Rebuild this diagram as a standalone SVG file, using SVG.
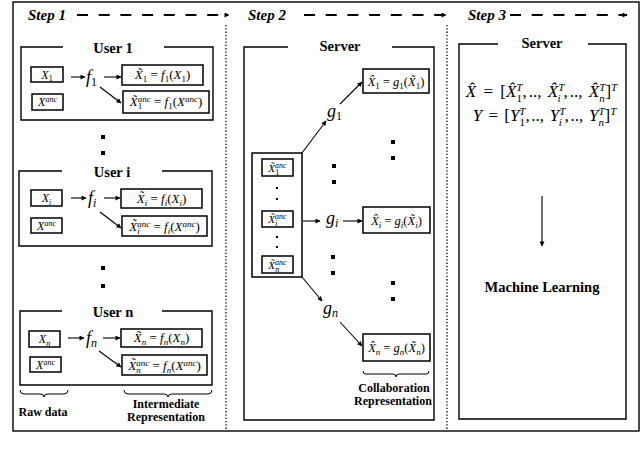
<svg xmlns="http://www.w3.org/2000/svg" width="640" height="450" viewBox="0 0 640 450">
<defs>
<marker id="ah" viewBox="0 0 10 10" refX="9" refY="5" markerWidth="6" markerHeight="5" orient="auto" markerUnits="userSpaceOnUse">
<path d="M0,0 L10,5 L0,10 z" fill="#000"/>
</marker>
</defs>
<style>
.fr{fill:none;stroke:#000;stroke-width:1.4}
.bx{fill:#fff;stroke:#000;stroke-width:1.5}
.ln{fill:none;stroke:#000;stroke-width:1.1;marker-end:url(#ah)}
.m{font-family:"Liberation Serif","DejaVu Serif",serif;font-style:italic;fill:#000}
.u{font-style:normal}
.t{font-family:"Liberation Serif","DejaVu Serif",serif;font-weight:bold;fill:#000}
.st{font-family:"Liberation Serif","DejaVu Serif",serif;font-weight:bold;font-style:italic;font-size:15px;fill:#000}
.dot{fill:#000}
.dash{stroke:#000;stroke-width:2;stroke-dasharray:11 10.7;fill:none;marker-end:url(#ah)}
.dotted{stroke:#000;stroke-width:1.3;stroke-dasharray:1.3 2;fill:none}
.br{fill:none;stroke:#000;stroke-width:1}
</style>
<rect x="0" y="0" width="640" height="450" fill="#fff"/>

<g id="frame">
<rect class="fr" x="13" y="2" width="626" height="429"/>
<line class="dotted" x1="226" y1="25" x2="226" y2="431"/>
<line class="dotted" x1="447" y1="25" x2="447" y2="431"/>
</g>

<g id="steps">
<text class="st" x="28" y="20">Step 1</text>
<text class="st" x="248" y="20">Step 2</text>
<text class="st" x="468" y="20">Step 3</text>
</g>

<g id="user1">
<path class="fr" d="M63,47 H21 V120 H213 V47 H164"/>
<text class="t" x="113" y="53" text-anchor="middle" font-size="14.5">User 1</text>
<rect class="bx" x="31" y="67" width="32" height="15"/>
<text class="m" x="47" y="78.5" text-anchor="middle" font-size="12">X<tspan class="u" font-size="8" dy="2.5">1</tspan></text>
<rect class="bx" x="32" y="94" width="31" height="16"/>
<text class="m" x="47.5" y="106" text-anchor="middle" font-size="12">X<tspan font-size="8" dy="-4">anc</tspan></text>
<text class="m" x="86" y="83" font-size="18">f<tspan class="u" font-size="12" dy="3">1</tspan></text>
<rect class="bx" x="122" y="65" width="81" height="20"/>
<text class="m" x="162.5" y="79" text-anchor="middle" font-size="13">X&#771;<tspan class="u" font-size="9" dy="3">1</tspan><tspan class="u" dy="-3"> = </tspan>f<tspan class="u" font-size="9" dy="3">1</tspan><tspan class="u" dy="-3">(</tspan>X<tspan class="u" font-size="9" dy="3">1</tspan><tspan class="u" dy="-3">)</tspan></text>
<rect class="bx" x="123" y="91" width="86" height="22"/>
<text class="m" x="166" y="106" text-anchor="middle" font-size="13">X&#771;<tspan font-size="9" dy="-4">anc</tspan><tspan class="u" font-size="9" dx="-13" dy="7">1</tspan><tspan class="u" dx="8.5" dy="-3"> = </tspan>f<tspan class="u" font-size="9" dy="3">1</tspan><tspan class="u" dy="-3">(</tspan>X<tspan font-size="9" dy="-4">anc</tspan><tspan class="u" dy="4">)</tspan></text>
</g>

<g id="useri">
<path class="fr" d="M62,171 H19 V246 H212 V171 H162"/>
<text class="t" x="112" y="177" text-anchor="middle" font-size="14.5">User i</text>
<rect class="bx" x="31" y="190" width="31" height="16"/>
<text class="m" x="46.5" y="202" text-anchor="middle" font-size="12">X<tspan font-size="8" dy="2.5">i</tspan></text>
<rect class="bx" x="31" y="218" width="31" height="15"/>
<text class="m" x="46.5" y="229.5" text-anchor="middle" font-size="12">X<tspan font-size="8" dy="-4">anc</tspan></text>
<text class="m" x="88" y="204" font-size="18">f<tspan font-size="12" dy="3">i</tspan></text>
<rect class="bx" x="121" y="189" width="81" height="19"/>
<text class="m" x="161.5" y="202.5" text-anchor="middle" font-size="13">X&#771;<tspan font-size="9" dy="3">i</tspan><tspan class="u" dy="-3"> = </tspan>f<tspan font-size="9" dy="3">i</tspan><tspan class="u" dy="-3">(</tspan>X<tspan font-size="9" dy="3">i</tspan><tspan class="u" dy="-3">)</tspan></text>
<rect class="bx" x="122" y="216" width="85" height="20"/>
<text class="m" x="164.5" y="230.5" text-anchor="middle" font-size="13">X&#771;<tspan font-size="9" dy="-4">anc</tspan><tspan font-size="9" dx="-13" dy="7">i</tspan><tspan class="u" dx="10.5" dy="-3"> = </tspan>f<tspan font-size="9" dy="3">i</tspan><tspan class="u" dy="-3">(</tspan>X<tspan font-size="9" dy="-4">anc</tspan><tspan class="u" dy="4">)</tspan></text>
</g>

<g id="usern">
<path class="fr" d="M62,311 H20 V385 H212 V311 H162"/>
<text class="t" x="113" y="317" text-anchor="middle" font-size="14.5">User n</text>
<rect class="bx" x="29" y="331" width="31" height="16"/>
<text class="m" x="44.5" y="343" text-anchor="middle" font-size="12">X<tspan font-size="8" dy="2.5">n</tspan></text>
<rect class="bx" x="30" y="357" width="31" height="15"/>
<text class="m" x="45.5" y="368.5" text-anchor="middle" font-size="12">X<tspan font-size="8" dy="-4">anc</tspan></text>
<text class="m" x="86" y="344" font-size="18">f<tspan font-size="12" dy="3">n</tspan></text>
<rect class="bx" x="121" y="329" width="81" height="18"/>
<text class="m" x="161.5" y="342" text-anchor="middle" font-size="13">X&#771;<tspan font-size="9" dy="3">n</tspan><tspan class="u" dy="-3"> = </tspan>f<tspan font-size="9" dy="3">n</tspan><tspan class="u" dy="-3">(</tspan>X<tspan font-size="9" dy="3">n</tspan><tspan class="u" dy="-3">)</tspan></text>
<rect class="bx" x="122" y="355" width="85" height="20"/>
<text class="m" x="164.5" y="369.5" text-anchor="middle" font-size="13">X&#771;<tspan font-size="9" dy="-4">anc</tspan><tspan font-size="9" dx="-13" dy="7">n</tspan><tspan class="u" dx="8.5" dy="-3"> = </tspan>f<tspan font-size="9" dy="3">n</tspan><tspan class="u" dy="-3">(</tspan>X<tspan font-size="9" dy="-4">anc</tspan><tspan class="u" dy="4">)</tspan></text>
</g>

<g id="step1-labels">
<path class="br" d="M20,390 Q20,394 24,394 H40 Q44,394 44,397 Q44,394 48,394 H64 Q68,394 68,390"/>
<text class="t" x="43" y="416" text-anchor="middle" font-size="12">Raw data</text>
<path class="br" d="M124,390 Q124,394 128,394 H164 Q168,394 168,397 Q168,394 172,394 H208 Q212,394 212,390"/>
<text class="t" x="166" y="408" text-anchor="middle" font-size="12">Intermediate</text>
<text class="t" x="166" y="421" text-anchor="middle" font-size="12">Representation</text>
</g>

<g id="server2">
<path class="fr" d="M288,47 H244 V420 H434 V47 H392"/>
<text class="t" x="340" y="51" text-anchor="middle" font-size="14.5">Server</text>
</g>

<g id="stack">
<rect class="bx" x="252" y="153" width="50" height="124"/>
<rect class="bx" x="262" y="159" width="31" height="17"/>
<text class="m" x="277.5" y="171.5" text-anchor="middle" font-size="11">X&#771;<tspan font-size="8" dy="-4">anc</tspan><tspan class="u" font-size="8" dx="-11.5" dy="7">1</tspan></text>
<rect class="dot" x="276" y="187" width="2" height="2"/>
<rect class="dot" x="276" y="198" width="2" height="2"/>
<rect class="bx" x="262" y="211" width="31" height="16"/>
<text class="m" x="277.5" y="222.5" text-anchor="middle" font-size="11">X&#771;<tspan font-size="8" dy="-4">anc</tspan><tspan font-size="8" dx="-11.5" dy="7">i</tspan></text>
<rect class="dot" x="276" y="236" width="2" height="2"/>
<rect class="dot" x="276" y="246" width="2" height="2"/>
<rect class="bx" x="262" y="256" width="31" height="17"/>
<text class="m" x="277.5" y="268.5" text-anchor="middle" font-size="11">X&#771;<tspan font-size="8" dy="-4">anc</tspan><tspan font-size="8" dx="-11.5" dy="7">n</tspan></text>
</g>

<g id="g1">
<text class="m" x="327" y="117" font-size="18">g<tspan class="u" font-size="12" dy="3">1</tspan></text>
<rect class="bx" x="363" y="69" width="66" height="24"/>
<text class="m" x="396" y="85.5" text-anchor="middle" font-size="12.5">X&#770;<tspan class="u" font-size="9" dy="3">1</tspan><tspan class="u" dy="-3"> = </tspan>g<tspan class="u" font-size="9" dy="3">1</tspan><tspan class="u" dy="-3">(</tspan>X&#771;<tspan class="u" font-size="9" dy="3">1</tspan><tspan class="u" dy="-3">)</tspan></text>
</g>

<g id="gi">
<text class="m" x="326" y="224" font-size="18">g<tspan font-size="12" dy="3">i</tspan></text>
<rect class="bx" x="363" y="207" width="67" height="26"/>
<text class="m" x="396.5" y="224.5" text-anchor="middle" font-size="12.5">X&#770;<tspan font-size="9" dy="3">i</tspan><tspan class="u" dy="-3"> = </tspan>g<tspan font-size="9" dy="3">i</tspan><tspan class="u" dy="-3">(</tspan>X&#771;<tspan font-size="9" dy="3">i</tspan><tspan class="u" dy="-3">)</tspan></text>
</g>

<g id="gn">
<text class="m" x="323" y="314" font-size="18">g<tspan font-size="12" dy="3">n</tspan></text>
<rect class="bx" x="363" y="334" width="67" height="27"/>
<text class="m" x="396.5" y="352" text-anchor="middle" font-size="12.5">X&#770;<tspan font-size="9" dy="3">n</tspan><tspan class="u" dy="-3"> = </tspan>g<tspan font-size="9" dy="3">n</tspan><tspan class="u" dy="-3">(</tspan>X&#771;<tspan font-size="9" dy="3">n</tspan><tspan class="u" dy="-3">)</tspan></text>
</g>

<g id="step2-dots">
<rect class="dot" x="332" y="164" width="4" height="4"/>
<rect class="dot" x="332" y="180" width="4" height="4"/>
<rect class="dot" x="331" y="255" width="4" height="4"/>
<rect class="dot" x="331" y="271" width="4" height="4"/>
<rect class="dot" x="391" y="140" width="4" height="4"/>
<rect class="dot" x="391" y="156" width="4" height="4"/>
<rect class="dot" x="391" y="281" width="4" height="4"/>
<rect class="dot" x="391" y="297" width="4" height="4"/>
</g>

<g id="step1-dots">
<rect class="dot" x="101" y="135" width="4" height="4"/>
<rect class="dot" x="101" y="151" width="4" height="4"/>
<rect class="dot" x="101" y="266" width="4" height="4"/>
<rect class="dot" x="101" y="284" width="4" height="4"/>
</g>

<g id="step2-labels">
<path class="br" d="M363,371 Q363,374 366,374 H393 Q396,374 396,377 Q396,374 399,374 H426 Q429,374 429,371"/>
<text class="t" x="394" y="392" text-anchor="middle" font-size="12">Collaboration</text>
<text class="t" x="393" y="405" text-anchor="middle" font-size="12">Representation</text>
</g>

<g id="server3">
<path class="fr" d="M498,44 H459 V419 H626 V44 H588"/>
<text class="t" x="542" y="48" text-anchor="middle" font-size="14.5">Server</text>
<text class="m" x="541.5" y="97" text-anchor="middle" font-size="17">X&#770;<tspan class="u" dx="3"> = </tspan><tspan class="u" dx="3">[</tspan>X&#770;<tspan font-size="11" dy="-6.5">T</tspan><tspan class="u" font-size="11" dx="-6.1" dy="11">1</tspan><tspan class="u" dx="0.6" dy="-4.5">,</tspan><tspan class="u" dx="2">..,</tspan><tspan class="u" dx="2"> </tspan>X&#770;<tspan font-size="11" dy="-6.5">T</tspan><tspan font-size="11" dx="-6.1" dy="11">i</tspan><tspan class="u" dx="3" dy="-4.5">,</tspan><tspan class="u" dx="2">..,</tspan><tspan class="u" dx="2"> </tspan>X&#770;<tspan font-size="11" dy="-6.5">T</tspan><tspan font-size="11" dx="-6.1" dy="11">n</tspan><tspan class="u" dx="0.6" dy="-4.5">]</tspan><tspan font-size="11" dy="-6.5">T</tspan></text>
<text class="m" x="544.5" y="121" text-anchor="middle" font-size="17">Y<tspan class="u" dx="2"> = </tspan><tspan class="u" dx="2">[</tspan>Y<tspan font-size="11" dy="-6.5">T</tspan><tspan class="u" font-size="11" dx="-6.1" dy="11">1</tspan><tspan class="u" dx="0.6" dy="-4.5">,</tspan><tspan class="u" dx="1.5">..,</tspan><tspan class="u" dx="1.5"> </tspan>Y<tspan font-size="11" dy="-6.5">T</tspan><tspan font-size="11" dx="-6.1" dy="11">i</tspan><tspan class="u" dx="3" dy="-4.5">,</tspan><tspan class="u" dx="1.5">..,</tspan><tspan class="u" dx="1.5"> </tspan>Y<tspan font-size="11" dy="-6.5">T</tspan><tspan font-size="11" dx="-6.1" dy="11">n</tspan><tspan class="u" dx="0.6" dy="-4.5">]</tspan><tspan font-size="11" dy="-6.5">T</tspan></text>
<text class="t" x="542" y="292" text-anchor="middle" font-size="14.5">Machine Learning</text>
</g>

<g id="connectors">
<line class="dash" x1="77" y1="15" x2="229" y2="15"/>
<line class="dash" x1="304" y1="15" x2="446" y2="15"/>
<line class="dash" x1="510" y1="15" x2="627" y2="15"/>
<line class="ln" x1="71" y1="77" x2="85" y2="77"/>
<line class="ln" x1="104" y1="77" x2="121" y2="77"/>
<line class="ln" x1="100" y1="87" x2="121" y2="103"/>
<line class="ln" x1="71" y1="198" x2="86" y2="198"/>
<line class="ln" x1="104" y1="198" x2="120" y2="198"/>
<line class="ln" x1="100" y1="212" x2="121" y2="228"/>
<line class="ln" x1="68" y1="338" x2="84" y2="338"/>
<line class="ln" x1="103" y1="338" x2="120" y2="338"/>
<line class="ln" x1="99" y1="351" x2="121" y2="367"/>
<line class="ln" x1="302" y1="153" x2="326" y2="121"/>
<line class="ln" x1="340" y1="104" x2="362" y2="82"/>
<line class="ln" x1="303" y1="221" x2="320" y2="221"/>
<line class="ln" x1="343" y1="221" x2="362" y2="221"/>
<line class="ln" x1="302" y1="277" x2="322" y2="301"/>
<line class="ln" x1="340" y1="322" x2="362" y2="346"/>
<line class="ln" x1="542" y1="196" x2="542" y2="246"/>
</g>
</svg>
